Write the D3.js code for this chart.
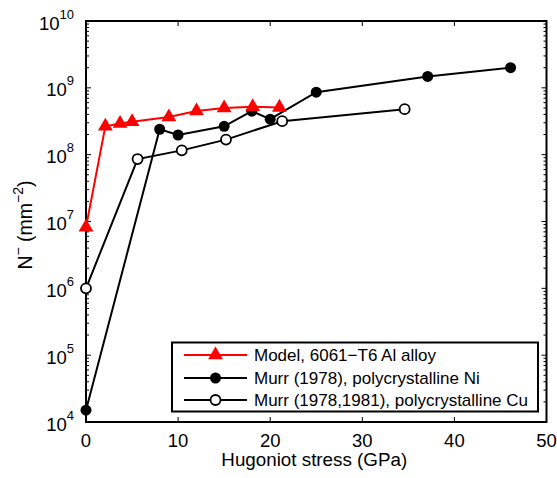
<!DOCTYPE html>
<html lang="en">
<head>
    <meta charset="UTF-8">
    <title>Hugoniot stress</title>
    <style>
        body{ margin:0; background:#fff; }
        svg text{ font-family: "Liberation Sans", Arial, Helvetica, sans-serif; }
    </style>
</head>
<body>
<div id="main"></div>
<script src="https://d3js.org/d3.v7.min.js"></script>
<script>
    /* data */
    const modelX = [0, 2.1, 3.7, 5.0, 9.0, 12.0, 15.0, 18.1, 21.0]
    const modelY = [8.2e6, 2.66e8, 2.93e8, 3.1e8, 3.67e8, 4.5e8, 5.0e8, 5.2e8, 5.1e8]

    const niX = [0, 8.0, 10.0, 15.0, 18.0, 20.0, 25.0, 37.1, 46.1]
    const niY = [1.5e4, 2.4e8, 1.97e8, 2.66e8, 4.47e8, 3.39e8, 8.6e8, 1.48e9, 2.0e9]

    const cuX = [0, 5.6, 10.4, 15.2, 21.3, 34.6]
    const cuY = [1.0e6, 8.6e7, 1.16e8, 1.68e8, 3.17e8, 4.8e8]

    const xTicks = [0, 10, 20, 30, 40, 50]
    const yExponents = [4, 5, 6, 7, 8, 9, 10]

    const legendLabels = [
        'Model, 6061\u2212T6 Al alloy',
        'Murr (1978), polycrystalline Ni',
        'Murr (1978,1981), polycrystalline Cu'
    ]

    /* canvas */
    const width = 557
    const height = 478
    const pLeft = 86, pRight = 546.5, pTop = 21, pBottom = 422

    const svg = d3.select('#main').append('svg')
        .attr('width', width)
        .attr('height', height)
        .attr('viewBox', `0 0 ${width} ${height}`)

    const x = d3.scaleLinear().domain([0, 50]).range([pLeft, pRight])
    const y = d3.scaleLog().domain([1e4, 1e10]).range([pBottom, pTop])

    /* minor ticks for log axis */
    const minor = []
    for (let e = 4; e < 10; e++) {
        for (let m = 2; m <= 9; m++) minor.push(m * Math.pow(10, e))
    }

    const axisG = svg.append('g')
    // minor ticks left and right
    axisG.selectAll('line.minL').data(minor).join('line')
        .attr('x1', pLeft).attr('x2', pLeft + 3)
        .attr('y1', d => y(d)).attr('y2', d => y(d))
        .attr('stroke', '#000').attr('stroke-width', 1)
    axisG.selectAll('line.minR').data(minor).join('line')
        .attr('x1', pRight).attr('x2', pRight - 3)
        .attr('y1', d => y(d)).attr('y2', d => y(d))
        .attr('stroke', '#000').attr('stroke-width', 1)
    // major ticks y
    const yMaj = yExponents.map(e => Math.pow(10, e))
    axisG.selectAll('line.majL').data(yMaj).join('line')
        .attr('x1', pLeft).attr('x2', pLeft + 5)
        .attr('y1', d => y(d)).attr('y2', d => y(d))
        .attr('stroke', '#000').attr('stroke-width', 1)
    axisG.selectAll('line.majR').data(yMaj).join('line')
        .attr('x1', pRight).attr('x2', pRight - 5)
        .attr('y1', d => y(d)).attr('y2', d => y(d))
        .attr('stroke', '#000').attr('stroke-width', 1)
    // major ticks x
    axisG.selectAll('line.xb').data(xTicks).join('line')
        .attr('x1', d => x(d)).attr('x2', d => x(d))
        .attr('y1', pBottom).attr('y2', pBottom - 5)
        .attr('stroke', '#000').attr('stroke-width', 1)
    axisG.selectAll('line.xt').data(xTicks).join('line')
        .attr('x1', d => x(d)).attr('x2', d => x(d))
        .attr('y1', pTop).attr('y2', pTop + 5)
        .attr('stroke', '#000').attr('stroke-width', 1)

    // frame
    svg.append('rect')
        .attr('x', pLeft).attr('y', pTop)
        .attr('width', pRight - pLeft).attr('height', pBottom - pTop)
        .attr('fill', 'none').attr('stroke', '#000').attr('stroke-width', 2)

    // x tick labels
    svg.selectAll('text.xl').data(xTicks).join('text')
        .attr('x', d => x(d)).attr('y', pBottom + 25)
        .attr('text-anchor', 'middle')
        .style('font-size', '18.5px')
        .text(d => d)

    // y tick labels 10^n
    const yl = svg.selectAll('text.yl').data(yExponents).join('text')
        .attr('x', pLeft - 12).attr('y', e => y(Math.pow(10, e)) + 8.5)
        .attr('text-anchor', 'end')
        .style('font-size', '18.5px')
    yl.append('tspan').text('10')
    yl.append('tspan').attr('dy', -11).style('font-size', '13px').text(e => e)

    // axis titles
    svg.append('text')
        .attr('x', (pLeft + pRight) / 2 - 2).attr('y', 466)
        .attr('text-anchor', 'middle')
        .style('font-size', '18.8px')
        .text('Hugoniot stress (GPa)')

    const yt = svg.append('text')
        .attr('transform', 'translate(32 225) rotate(-90)')
        .attr('text-anchor', 'middle')
        .style('font-size', '19.5px')
    yt.append('tspan').text('N')
    yt.append('tspan').attr('dy', -9).style('font-size', '14px').text('\u2212')
    yt.append('tspan').attr('dy', 9).text(' (mm')
    yt.append('tspan').attr('dy', -9).style('font-size', '14px').text('\u22122')
    yt.append('tspan').attr('dy', 9).text(')')

    /* series */
    const line = d3.line().x(d => x(d[0])).y(d => y(d[1]))
    const tri = d3.symbol().type(d3.symbolTriangle).size(95)

    const modelPts = d3.zip(modelX, modelY)
    const niPts = d3.zip(niX, niY)
    const cuPts = d3.zip(cuX, cuY)

    svg.append('path').datum(niPts).attr('d', line)
        .attr('fill', 'none').attr('stroke', '#000').attr('stroke-width', 2)
    svg.append('path').datum(cuPts).attr('d', line)
        .attr('fill', 'none').attr('stroke', '#000').attr('stroke-width', 2)
    svg.append('path').datum(modelPts).attr('d', line)
        .attr('fill', 'none').attr('stroke', '#ff0000').attr('stroke-width', 2)

    svg.selectAll('circle.ni').data(niPts).join('circle')
        .attr('cx', d => x(d[0])).attr('cy', d => y(d[1])).attr('r', 5.5)
        .attr('fill', '#000')
    svg.selectAll('circle.cu').data(cuPts).join('circle')
        .attr('cx', d => x(d[0])).attr('cy', d => y(d[1])).attr('r', 5)
        .attr('fill', '#fff').attr('stroke', '#000').attr('stroke-width', 1.8)
    svg.selectAll('path.tri').data(modelPts).join('path')
        .attr('d', tri)
        .attr('transform', d => `translate(${x(d[0])} ${y(d[1])})`)
        .attr('fill', '#ff0000')

    /* legend */
    const lg = svg.append('g')
    lg.append('rect')
        .attr('x', 172).attr('y', 342.5).attr('width', 366).attr('height', 69)
        .attr('fill', '#fff').attr('stroke', '#000').attr('stroke-width', 2)
    const rowY = [355, 378, 400]
    lg.selectAll('line.lg').data(legendLabels).join('line')
        .attr('x1', 184).attr('x2', 247)
        .attr('y1', (d, i) => rowY[i]).attr('y2', (d, i) => rowY[i])
        .attr('stroke', (d, i) => i === 0 ? '#ff0000' : '#000').attr('stroke-width', 2)
    lg.append('path').attr('d', tri)
        .attr('transform', `translate(215.5 ${rowY[0]})`).attr('fill', '#ff0000')
    lg.append('circle').attr('cx', 215.5).attr('cy', rowY[1]).attr('r', 5.5).attr('fill', '#000')
    lg.append('circle').attr('cx', 215.5).attr('cy', rowY[2]).attr('r', 5)
        .attr('fill', '#fff').attr('stroke', '#000').attr('stroke-width', 1.8)
    lg.selectAll('text.lg').data(legendLabels).join('text')
        .attr('x', 254).attr('y', (d, i) => rowY[i] + 6)
        .style('font-size', '17px')
        .text(d => d)
</script>
</body>
</html>
